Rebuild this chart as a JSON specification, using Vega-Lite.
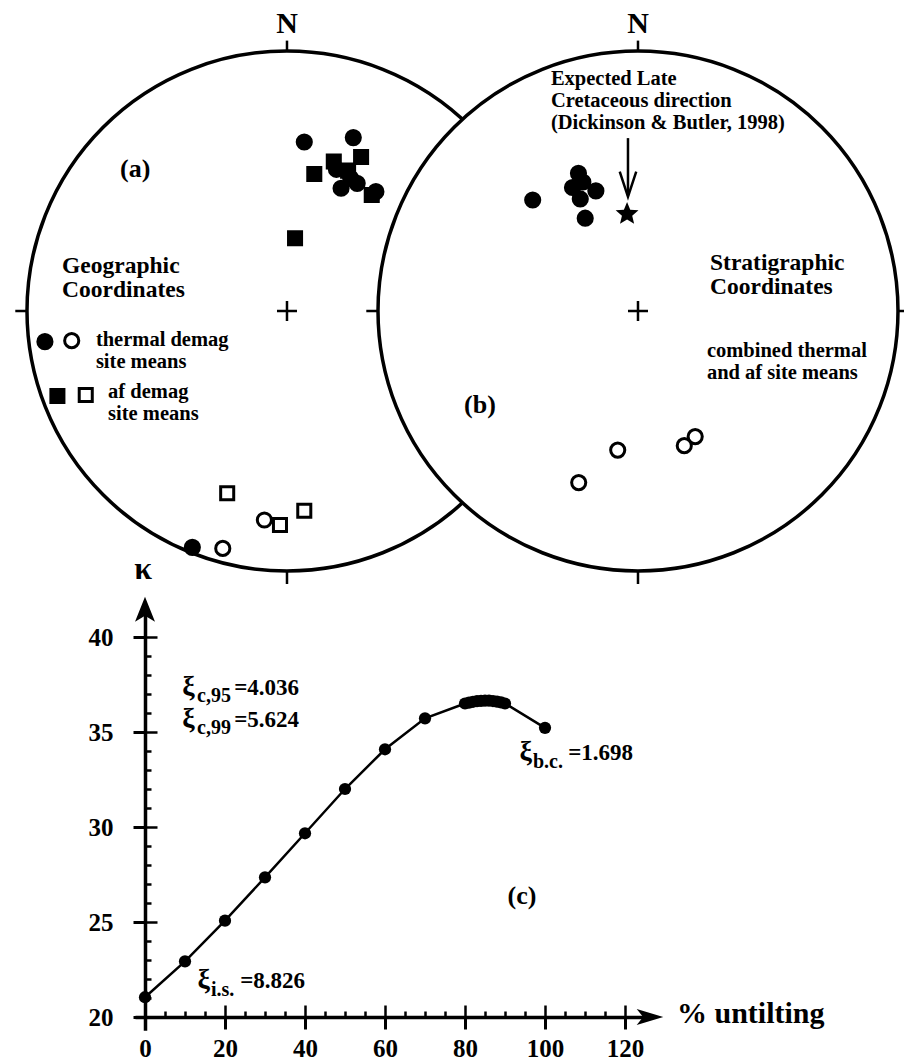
{
  "$schema": "https://vega.github.io/schema/vega-lite/v6.json",
  "width": 904,
  "height": 1064,
  "padding": 0,
  "autosize": {"type": "none"},
  "background": "white",
  "config": {
    "view": {"stroke": null},
    "font": "Liberation Serif",
    "text": {"font": "Liberation Serif", "fontWeight": "bold", "color": "black"},
    "axis": {
      "grid": false, "labelFlush": false, "labelOverlap": false, "labelBound": false,
      "domainColor": "black", "tickColor": "black", "labelColor": "black",
      "labelFont": "Liberation Serif", "labelFontWeight": "bold"
    }
  },
  "datasets": {
    "nets": [{"x": 0, "y": 0}, {"x": 1.35, "y": 0}],
    "netTicks": [
      {"x": 0, "y": 1, "x2": 0, "y2": 1.04},
      {"x": -1, "y": 0, "x2": -1.045, "y2": 0},
      {"x": 0, "y": -1, "x2": 0, "y2": -1.05},
      {"x": 1.35, "y": 1, "x2": 1.35, "y2": 1.04},
      {"x": 0.35, "y": 0, "x2": 0.305, "y2": 0},
      {"x": 1.35, "y": -1, "x2": 1.35, "y2": -1.05},
      {"x": 2.35, "y": 0, "x2": 2.4, "y2": 0}
    ],
    "sites": [
      {"x": 0.0665, "y": 0.65, "demag": "thermal", "hemisphere": "lower"},
      {"x": 0.255, "y": 0.667, "demag": "thermal", "hemisphere": "lower"},
      {"x": 0.19, "y": 0.545, "demag": "thermal", "hemisphere": "lower"},
      {"x": 0.245, "y": 0.51, "demag": "thermal", "hemisphere": "lower"},
      {"x": 0.208, "y": 0.472, "demag": "thermal", "hemisphere": "lower"},
      {"x": 0.27, "y": 0.491, "demag": "thermal", "hemisphere": "lower"},
      {"x": 0.342, "y": 0.459, "demag": "thermal", "hemisphere": "lower"},
      {"x": -0.364, "y": -0.909, "demag": "thermal", "hemisphere": "lower"},
      {"x": -0.087, "y": -0.804, "demag": "thermal", "hemisphere": "upper"},
      {"x": -0.247, "y": -0.913, "demag": "thermal", "hemisphere": "upper"},
      {"x": 0.105, "y": 0.527, "demag": "af", "hemisphere": "lower"},
      {"x": 0.285, "y": 0.592, "demag": "af", "hemisphere": "lower"},
      {"x": 0.18, "y": 0.575, "demag": "af", "hemisphere": "lower"},
      {"x": 0.235, "y": 0.54, "demag": "af", "hemisphere": "lower"},
      {"x": 0.326, "y": 0.446, "demag": "af", "hemisphere": "lower"},
      {"x": 0.031, "y": 0.28, "demag": "af", "hemisphere": "lower"},
      {"x": -0.23, "y": -0.701, "demag": "af", "hemisphere": "upper"},
      {"x": -0.027, "y": -0.823, "demag": "af", "hemisphere": "upper"},
      {"x": 0.0665, "y": -0.768, "demag": "af", "hemisphere": "upper"},
      {"x": 0.945, "y": 0.427, "demag": "combined", "hemisphere": "lower"},
      {"x": 1.121, "y": 0.53, "demag": "combined", "hemisphere": "lower"},
      {"x": 1.098, "y": 0.475, "demag": "combined", "hemisphere": "lower"},
      {"x": 1.188, "y": 0.462, "demag": "combined", "hemisphere": "lower"},
      {"x": 1.128, "y": 0.431, "demag": "combined", "hemisphere": "lower"},
      {"x": 1.138, "y": 0.496, "demag": "combined", "hemisphere": "lower"},
      {"x": 1.147, "y": 0.357, "demag": "combined", "hemisphere": "lower"},
      {"x": 1.272, "y": -0.535, "demag": "combined", "hemisphere": "upper"},
      {"x": 1.122, "y": -0.66, "demag": "combined", "hemisphere": "upper"},
      {"x": 1.57, "y": -0.483, "demag": "combined", "hemisphere": "upper"},
      {"x": 1.528, "y": -0.518, "demag": "combined", "hemisphere": "upper"},
      {"x": -0.931, "y": -0.118, "demag": "thermal", "hemisphere": "lower"},
      {"x": -0.828, "y": -0.114, "demag": "thermal", "hemisphere": "upper"},
      {"x": -0.883, "y": -0.327, "demag": "af", "hemisphere": "lower"},
      {"x": -0.774, "y": -0.323, "demag": "af", "hemisphere": "upper"}
    ],
    "expected": [{"x": 1.308, "y": 0.373}],
    "pointer": [{"x": 1.3115, "y": 0.665, "x2": 1.3115, "y2": 0.445, "tipY": 0.4396}],
    "netLabels": [
      {"x": 0, "y": 1.068, "text": "N", "kind": "compass"},
      {"x": 1.35, "y": 1.068, "text": "N", "kind": "compass"},
      {"x": -0.642, "y": 0.515, "text": "(a)", "kind": "panel"},
      {"x": 0.681, "y": -0.392, "text": "(b)", "kind": "panel"},
      {"x": -0.865, "y": 0.146, "text": "Geographic\nCoordinates", "kind": "heading"},
      {"x": 1.627, "y": 0.156, "text": "Stratigraphic\nCoordinates", "kind": "heading"},
      {"x": -0.735, "y": -0.133, "text": "thermal demag\nsite means", "kind": "note"},
      {"x": -0.688, "y": -0.333, "text": "af demag\nsite means", "kind": "note"},
      {"x": 1.615, "y": -0.175, "text": "combined thermal\nand af site means", "kind": "note"},
      {"x": 1.015, "y": 0.868, "text": "Expected Late\nCretaceous direction\n(Dickinson & Butler, 1998)", "kind": "note"}
    ],
    "kappa": [
      {"untilting": 0, "kappa": 21.04},
      {"untilting": 10, "kappa": 22.93},
      {"untilting": 20, "kappa": 25.07},
      {"untilting": 30, "kappa": 27.35},
      {"untilting": 40, "kappa": 29.67},
      {"untilting": 50, "kappa": 32.0},
      {"untilting": 60, "kappa": 34.09},
      {"untilting": 70, "kappa": 35.72},
      {"untilting": 80, "kappa": 36.5},
      {"untilting": 81, "kappa": 36.55},
      {"untilting": 82, "kappa": 36.59},
      {"untilting": 83, "kappa": 36.62},
      {"untilting": 84, "kappa": 36.64},
      {"untilting": 85, "kappa": 36.65},
      {"untilting": 86, "kappa": 36.65},
      {"untilting": 87, "kappa": 36.63},
      {"untilting": 88, "kappa": 36.6},
      {"untilting": 89, "kappa": 36.56},
      {"untilting": 90, "kappa": 36.5},
      {"untilting": 100, "kappa": 35.22}
    ],
    "arrowTips": [
      {"x": 0, "y": 41.463, "dir": "up"},
      {"x": 126.25, "y": 20, "dir": "right"}
    ],
    "chartLabels": [
      {"x": 9.3, "y": 36.947, "text": "ξ", "kind": "symbol"},
      {"x": 13, "y": 36.579, "text": "c,95", "kind": "sub"},
      {"x": 22.3, "y": 36.947, "text": "=4.036", "kind": "main"},
      {"x": 9.3, "y": 35.263, "text": "ξ", "kind": "symbol"},
      {"x": 13, "y": 34.895, "text": "c,99", "kind": "sub"},
      {"x": 22.3, "y": 35.263, "text": "=5.624", "kind": "main"},
      {"x": 13.1, "y": 21.526, "text": "ξ", "kind": "symbol"},
      {"x": 16.5, "y": 21.105, "text": "i.s.", "kind": "sub"},
      {"x": 23.8, "y": 21.526, "text": "=8.826", "kind": "main"},
      {"x": 93.6, "y": 33.526, "text": "ξ", "kind": "symbol"},
      {"x": 97, "y": 33.105, "text": "b.c.", "kind": "sub"},
      {"x": 105.8, "y": 33.526, "text": "=1.698", "kind": "main"},
      {"x": 94.25, "y": 26.368, "text": "(c)", "kind": "panel"},
      {"x": -0.5, "y": 43.58, "text": "κ", "kind": "kappaTitle"},
      {"x": 133, "y": 19.68, "text": "% untilting", "kind": "xTitle"}
    ]
  },
  "layer": [
    {
      "layer": [
        {
          "data": {"name": "nets"},
          "mark": {"type": "point", "shape": "circle", "size": 270400, "filled": true, "fill": "white", "stroke": "black", "strokeWidth": 3.5, "opacity": 1},
          "encoding": {
            "x": {"field": "x", "type": "quantitative", "scale": {"domain": [-1.1038, 2.3731], "nice": false, "zero": false}, "axis": null},
            "y": {"field": "y", "type": "quantitative", "scale": {"domain": [-2.8962, 1.1962], "nice": false, "zero": false}, "axis": null}
          }
        },
        {
          "data": {"name": "netTicks"},
          "mark": {"type": "rule", "color": "black", "strokeWidth": 2.5},
          "encoding": {
            "x": {"field": "x", "type": "quantitative", "scale": {"domain": [-1.1038, 2.3731], "nice": false, "zero": false}, "axis": null},
            "y": {"field": "y", "type": "quantitative", "scale": {"domain": [-2.8962, 1.1962], "nice": false, "zero": false}, "axis": null},
            "x2": {"field": "x2"},
            "y2": {"field": "y2"}
          }
        },
        {
          "data": {"name": "nets"},
          "mark": {"type": "point", "shape": "M-1,0L1,0M0,-1L0,1", "size": 400, "filled": false, "stroke": "black", "strokeWidth": 2.5, "opacity": 1},
          "encoding": {
            "x": {"field": "x", "type": "quantitative", "scale": {"domain": [-1.1038, 2.3731], "nice": false, "zero": false}, "axis": null},
            "y": {"field": "y", "type": "quantitative", "scale": {"domain": [-2.8962, 1.1962], "nice": false, "zero": false}, "axis": null}
          }
        },
        {
          "data": {"name": "sites"},
          "transform": [{"filter": "datum.demag !== 'af'"}],
          "mark": {"type": "point", "shape": "circle", "size": 200, "filled": true, "stroke": "black", "strokeWidth": 3, "opacity": 1},
          "encoding": {
            "x": {"field": "x", "type": "quantitative", "scale": {"domain": [-1.1038, 2.3731], "nice": false, "zero": false}, "axis": null},
            "y": {"field": "y", "type": "quantitative", "scale": {"domain": [-2.8962, 1.1962], "nice": false, "zero": false}, "axis": null},
            "fill": {"condition": {"test": "datum.hemisphere === 'lower'", "value": "black"}, "value": "white"}
          }
        },
        {
          "data": {"name": "sites"},
          "transform": [{"filter": "datum.demag === 'af'"}],
          "mark": {"type": "point", "shape": "square", "size": 170, "filled": true, "stroke": "black", "strokeWidth": 3, "opacity": 1},
          "encoding": {
            "x": {"field": "x", "type": "quantitative", "scale": {"domain": [-1.1038, 2.3731], "nice": false, "zero": false}, "axis": null},
            "y": {"field": "y", "type": "quantitative", "scale": {"domain": [-2.8962, 1.1962], "nice": false, "zero": false}, "axis": null},
            "fill": {"condition": {"test": "datum.hemisphere === 'lower'", "value": "black"}, "value": "white"}
          }
        },
        {
          "data": {"name": "expected"},
          "mark": {"type": "point", "shape": "M0,-1L0.2645,-0.3641L0.9511,-0.309L0.428,0.1391L0.5878,0.809L0,0.45L-0.5878,0.809L-0.428,0.1391L-0.9511,-0.309L-0.2645,-0.3641Z", "size": 576, "filled": true, "fill": "black", "opacity": 1},
          "encoding": {
            "x": {"field": "x", "type": "quantitative", "scale": {"domain": [-1.1038, 2.3731], "nice": false, "zero": false}, "axis": null},
            "y": {"field": "y", "type": "quantitative", "scale": {"domain": [-2.8962, 1.1962], "nice": false, "zero": false}, "axis": null}
          }
        },
        {
          "data": {"name": "pointer"},
          "mark": {"type": "rule", "color": "black", "strokeWidth": 2.5},
          "encoding": {
            "x": {"field": "x", "type": "quantitative", "scale": {"domain": [-1.1038, 2.3731], "nice": false, "zero": false}, "axis": null},
            "y": {"field": "y", "type": "quantitative", "scale": {"domain": [-2.8962, 1.1962], "nice": false, "zero": false}, "axis": null},
            "x2": {"field": "x2"},
            "y2": {"field": "y2"}
          }
        },
        {
          "data": {"name": "pointer"},
          "mark": {"type": "point", "shape": "M-0.33,-1L0,0L0.33,-1", "size": 2500, "filled": false, "stroke": "black", "strokeWidth": 2.5, "opacity": 1},
          "encoding": {
            "x": {"field": "x", "type": "quantitative", "scale": {"domain": [-1.1038, 2.3731], "nice": false, "zero": false}, "axis": null},
            "y": {"field": "tipY", "type": "quantitative", "scale": {"domain": [-2.8962, 1.1962], "nice": false, "zero": false}, "axis": null}
          }
        },
        {
          "data": {"name": "netLabels"},
          "transform": [{"filter": "datum.kind === 'compass'"}],
          "mark": {"type": "text", "fontSize": 30, "align": "center", "baseline": "alphabetic"},
          "encoding": {
            "x": {"field": "x", "type": "quantitative", "scale": {"domain": [-1.1038, 2.3731], "nice": false, "zero": false}, "axis": null},
            "y": {"field": "y", "type": "quantitative", "scale": {"domain": [-2.8962, 1.1962], "nice": false, "zero": false}, "axis": null},
            "text": {"field": "text"}
          }
        },
        {
          "data": {"name": "netLabels"},
          "transform": [{"filter": "datum.kind === 'panel'"}],
          "mark": {"type": "text", "fontSize": 26, "align": "left", "baseline": "alphabetic"},
          "encoding": {
            "x": {"field": "x", "type": "quantitative", "scale": {"domain": [-1.1038, 2.3731], "nice": false, "zero": false}, "axis": null},
            "y": {"field": "y", "type": "quantitative", "scale": {"domain": [-2.8962, 1.1962], "nice": false, "zero": false}, "axis": null},
            "text": {"field": "text"}
          }
        },
        {
          "data": {"name": "netLabels"},
          "transform": [{"filter": "datum.kind === 'heading'"}],
          "mark": {"type": "text", "fontSize": 23.5, "align": "left", "baseline": "alphabetic", "lineBreak": "\n", "lineHeight": 23.5},
          "encoding": {
            "x": {"field": "x", "type": "quantitative", "scale": {"domain": [-1.1038, 2.3731], "nice": false, "zero": false}, "axis": null},
            "y": {"field": "y", "type": "quantitative", "scale": {"domain": [-2.8962, 1.1962], "nice": false, "zero": false}, "axis": null},
            "text": {"field": "text"}
          }
        },
        {
          "data": {"name": "netLabels"},
          "transform": [{"filter": "datum.kind === 'note'"}],
          "mark": {"type": "text", "fontSize": 20.5, "align": "left", "baseline": "alphabetic", "lineBreak": "\n", "lineHeight": 22},
          "encoding": {
            "x": {"field": "x", "type": "quantitative", "scale": {"domain": [-1.1038, 2.3731], "nice": false, "zero": false}, "axis": null},
            "y": {"field": "y", "type": "quantitative", "scale": {"domain": [-2.8962, 1.1962], "nice": false, "zero": false}, "axis": null},
            "text": {"field": "text"}
          }
        }
      ]
    },
    {
      "layer": [
        {
          "data": {"name": "kappa"},
          "mark": {"type": "line", "color": "black", "strokeWidth": 2.5},
          "encoding": {
            "x": {
              "field": "untilting", "type": "quantitative",
              "scale": {"domain": [-2.5, 126], "range": [135, 649], "nice": false, "zero": false},
              "axis": {"orient": "bottom", "offset": -47, "values": [0, 20, 40, 60, 80, 100, 120], "tickSize": 12, "tickWidth": 3, "domain": true, "domainWidth": 3.5, "labelFontSize": 25, "labelPadding": 7, "title": null}
            },
            "y": {
              "field": "kappa", "type": "quantitative",
              "scale": {"domain": [19.3, 41.5], "range": [1030.3, 608.5], "nice": false, "zero": false},
              "axis": {"orient": "left", "offset": -145, "values": [20, 25, 30, 35, 40], "tickSize": 12, "tickWidth": 3, "domain": true, "domainWidth": 3.5, "labelFontSize": 25, "labelPadding": 20, "title": null}
            }
          }
        },
        {
          "data": {"name": "kappa"},
          "mark": {"type": "point", "shape": "circle", "size": 150, "filled": true, "color": "black", "opacity": 1},
          "encoding": {
            "x": {
              "field": "untilting", "type": "quantitative",
              "scale": {"domain": [-2.5, 126], "range": [135, 649], "nice": false, "zero": false},
              "axis": {"orient": "top", "offset": -1017, "values": [0, 5, 10, 15, 20, 25, 30, 35, 40, 45, 50, 55, 60, 65, 70, 75, 80, 85, 90, 95, 100, 105, 110, 115, 120], "tickSize": {"condition": {"test": "datum.value % 20 === 0", "value": 12}, "value": 6}, "tickWidth": 2.5, "labels": false, "domain": false, "title": null}
            },
            "y": {
              "field": "kappa", "type": "quantitative",
              "scale": {"domain": [19.3, 41.5], "range": [1030.3, 608.5], "nice": false, "zero": false},
              "axis": {"orient": "right", "offset": -759, "values": [20, 21, 22, 23, 24, 25, 26, 27, 28, 29, 30, 31, 32, 33, 34, 35, 36, 37, 38, 39, 40], "tickSize": {"condition": {"test": "datum.value % 5 === 0", "value": 12}, "value": 6}, "tickWidth": 2.5, "labels": false, "domain": false, "title": null}
            }
          }
        },
        {
          "data": {"name": "arrowTips"},
          "mark": {"type": "point", "filled": true, "color": "black", "opacity": 1},
          "encoding": {
            "x": {"field": "x", "type": "quantitative", "scale": {"domain": [-2.5, 126], "range": [135, 649], "nice": false, "zero": false}, "axis": null},
            "y": {"field": "y", "type": "quantitative", "scale": {"domain": [19.3, 41.5], "range": [1030.3, 608.5], "nice": false, "zero": false}, "axis": null},
            "shape": {"field": "dir", "type": "nominal", "scale": {"domain": ["up", "right"], "range": ["M0,-1L0.8,1L0,0.52L-0.8,1Z", "M1,0L-1,0.6L-0.52,0L-1,-0.6Z"]}, "legend": null},
            "size": {"field": "dir", "type": "nominal", "scale": {"domain": ["up", "right"], "range": [625, 708]}, "legend": null}
          }
        },
        {
          "data": {"name": "chartLabels"},
          "transform": [{"filter": "datum.kind === 'symbol'"}],
          "mark": {"type": "text", "fontSize": 28, "align": "left", "baseline": "alphabetic"},
          "encoding": {
            "x": {"field": "x", "type": "quantitative", "scale": {"domain": [-2.5, 126], "range": [135, 649], "nice": false, "zero": false}, "axis": null},
            "y": {"field": "y", "type": "quantitative", "scale": {"domain": [19.3, 41.5], "range": [1030.3, 608.5], "nice": false, "zero": false}, "axis": null},
            "text": {"field": "text"}
          }
        },
        {
          "data": {"name": "chartLabels"},
          "transform": [{"filter": "datum.kind === 'main'"}],
          "mark": {"type": "text", "fontSize": 23, "align": "left", "baseline": "alphabetic"},
          "encoding": {
            "x": {"field": "x", "type": "quantitative", "scale": {"domain": [-2.5, 126], "range": [135, 649], "nice": false, "zero": false}, "axis": null},
            "y": {"field": "y", "type": "quantitative", "scale": {"domain": [19.3, 41.5], "range": [1030.3, 608.5], "nice": false, "zero": false}, "axis": null},
            "text": {"field": "text"}
          }
        },
        {
          "data": {"name": "chartLabels"},
          "transform": [{"filter": "datum.kind === 'sub'"}],
          "mark": {"type": "text", "fontSize": 20, "align": "left", "baseline": "alphabetic"},
          "encoding": {
            "x": {"field": "x", "type": "quantitative", "scale": {"domain": [-2.5, 126], "range": [135, 649], "nice": false, "zero": false}, "axis": null},
            "y": {"field": "y", "type": "quantitative", "scale": {"domain": [19.3, 41.5], "range": [1030.3, 608.5], "nice": false, "zero": false}, "axis": null},
            "text": {"field": "text"}
          }
        },
        {
          "data": {"name": "chartLabels"},
          "transform": [{"filter": "datum.kind === 'panel'"}],
          "mark": {"type": "text", "fontSize": 26, "align": "center", "baseline": "middle"},
          "encoding": {
            "x": {"field": "x", "type": "quantitative", "scale": {"domain": [-2.5, 126], "range": [135, 649], "nice": false, "zero": false}, "axis": null},
            "y": {"field": "y", "type": "quantitative", "scale": {"domain": [19.3, 41.5], "range": [1030.3, 608.5], "nice": false, "zero": false}, "axis": null},
            "text": {"field": "text"}
          }
        },
        {
          "data": {"name": "chartLabels"},
          "transform": [{"filter": "datum.kind === 'kappaTitle'"}],
          "mark": {"type": "text", "fontSize": 32, "align": "center", "baseline": "middle"},
          "encoding": {
            "x": {"field": "x", "type": "quantitative", "scale": {"domain": [-2.5, 126], "range": [135, 649], "nice": false, "zero": false}, "axis": null},
            "y": {"field": "y", "type": "quantitative", "scale": {"domain": [19.3, 41.5], "range": [1030.3, 608.5], "nice": false, "zero": false}, "axis": null},
            "text": {"field": "text"}
          }
        },
        {
          "data": {"name": "chartLabels"},
          "transform": [{"filter": "datum.kind === 'xTitle'"}],
          "mark": {"type": "text", "fontSize": 30, "align": "left", "baseline": "alphabetic"},
          "encoding": {
            "x": {"field": "x", "type": "quantitative", "scale": {"domain": [-2.5, 126], "range": [135, 649], "nice": false, "zero": false}, "axis": null},
            "y": {"field": "y", "type": "quantitative", "scale": {"domain": [19.3, 41.5], "range": [1030.3, 608.5], "nice": false, "zero": false}, "axis": null},
            "text": {"field": "text"}
          }
        }
      ],
      "resolve": {"axis": {"x": "independent", "y": "independent"}}
    }
  ],
  "resolve": {"scale": {"x": "independent", "y": "independent"}}
}
